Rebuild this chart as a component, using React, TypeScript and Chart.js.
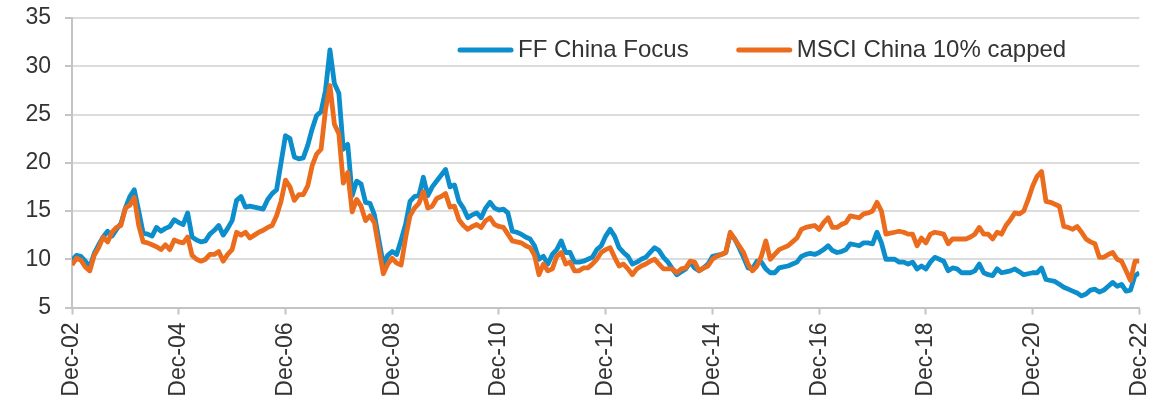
import React, { useEffect, useRef } from "react";
import { Chart, registerables } from "chart.js";

Chart.register(...registerables);

const seriesNames = ["FF China Focus", "MSCI China 10% capped"];
const seriesColors = ["#0C8ECC", "#EC6C1E"];

// x-axis tick labels, every 24 months from Dec-02
const tickLabels = ["Dec-02", "Dec-04", "Dec-06", "Dec-08", "Dec-10", "Dec-12", "Dec-14", "Dec-16", "Dec-18", "Dec-20", "Dec-22"];

// Monthly P/E values, Dec-02 .. Dec-22
const ffChinaFocus = [
  9.9, 10.4, 10.3, 9.8, 9.2, 10.6, 11.5, 12.3, 12.9, 12.4, 13.1, 13.7,
  15.3, 16.5, 17.2, 15.0, 12.7, 12.6, 12.4, 13.3, 12.9, 13.2, 13.4, 14.1,
  13.8, 13.6, 14.8, 12.3, 12.0, 11.8, 11.9, 12.6, 13.0, 13.5, 12.5, 13.2,
  14.0, 16.1, 16.5, 15.4, 15.5, 15.4, 15.3, 15.2, 16.2, 16.8, 17.2, 20.0,
  22.8, 22.5, 20.6, 20.4, 20.5, 21.8, 23.5, 24.9, 25.3, 27.5, 31.7, 28.2,
  27.2, 21.4, 21.9, 16.6, 18.1, 17.8, 15.9, 15.8, 14.6, 12.0, 9.5, 10.4,
  10.8, 10.5, 12.0, 13.6, 16.0, 16.5, 16.6, 18.5, 16.6, 17.5, 18.1, 18.7,
  19.3, 17.5, 17.7, 16.0, 15.3, 14.3, 14.6, 14.8, 14.3, 15.3, 15.9, 15.3,
  15.1, 15.2, 14.8, 12.9, 12.8, 12.6, 12.3, 12.1, 11.4, 10.0, 10.3, 9.5,
  10.5, 11.0, 11.9, 10.7, 10.7, 9.7, 9.7, 9.8, 10.0, 10.2, 11.0, 11.4,
  12.4, 13.1, 12.4, 11.2, 10.7, 10.3, 9.5, 9.7, 10.0, 10.2, 10.7, 11.2,
  10.9, 10.2, 9.7, 9.0, 8.4, 8.7, 9.0, 9.7, 9.1, 8.8, 9.1, 9.5,
  10.3, 10.4, 10.5, 10.7, 12.6, 12.1, 11.2, 10.2, 9.1, 9.0, 9.8, 9.7,
  9.0, 8.6, 8.6, 9.1, 9.2, 9.3, 9.5, 9.7, 10.3, 10.5, 10.6, 10.5,
  10.7, 11.0, 11.4, 10.9, 10.7, 10.8, 11.0, 11.6, 11.5, 11.4, 11.7, 11.7,
  11.6, 12.8, 11.7, 10.0, 10.0, 10.0, 9.7, 9.7, 9.5, 9.7, 9.0, 9.3,
  9.0, 9.7, 10.2, 10.0, 9.8, 8.8, 9.1, 9.0, 8.6, 8.6, 8.6, 8.8,
  9.5, 8.6, 8.4, 8.3, 9.0, 8.6, 8.7, 8.8, 9.0, 8.7, 8.4, 8.5,
  8.6, 8.6, 9.1, 7.9, 7.8, 7.7, 7.4, 7.1, 6.9, 6.7, 6.5, 6.2,
  6.4, 6.8, 6.9, 6.6, 6.8, 7.2, 7.6, 7.2, 7.4, 6.7, 6.8, 8.3,
  8.6,
];

const msciChina10 = [
  9.4, 10.1, 9.9, 9.2, 8.8, 10.4, 11.2, 12.3, 11.8, 12.8, 13.3, 13.5,
  15.3, 15.6, 16.4, 13.5, 11.8, 11.7, 11.5, 11.3, 11.0, 11.5, 11.0, 12.0,
  11.8, 11.7, 12.3, 10.4, 10.0, 9.8, 10.0, 10.5, 10.5, 10.8, 9.8, 10.5,
  11.0, 12.8, 12.5, 12.8, 12.2, 12.5, 12.8, 13.0, 13.3, 13.5, 14.5, 16.0,
  18.2, 17.5, 16.1, 16.7, 16.7, 17.6, 19.7, 20.9, 21.4, 25.5, 28.0, 24.0,
  23.0, 17.9, 19.0, 14.9, 16.2, 15.5, 14.0, 14.5, 13.8, 11.1, 8.5, 9.5,
  10.1, 9.6, 9.4, 12.2, 14.5, 15.3, 15.8, 17.0, 15.3, 15.5, 16.3, 16.5,
  16.8, 15.4, 15.5, 14.1, 13.5, 13.1, 13.4, 13.6, 13.3, 14.0, 14.3, 13.6,
  13.4, 13.3, 12.6, 11.9, 11.8, 11.7, 11.4, 11.2, 10.4, 8.4, 9.5, 8.8,
  9.0, 10.3, 10.7, 9.5, 9.7, 8.8, 8.8, 9.1, 9.1, 9.5, 10.0, 10.7,
  11.0, 11.2, 10.2, 9.3, 9.5, 9.0, 8.4, 9.0, 9.3, 9.5, 9.8, 10.0,
  9.5, 9.0, 9.0, 9.0, 8.6, 9.0, 9.1, 9.8, 9.7, 8.8, 9.1, 9.3,
  10.0, 10.3, 10.5, 10.7, 12.8, 12.1, 11.4, 10.7, 9.5, 8.8, 9.3, 10.3,
  11.9, 10.0, 10.5, 11.0, 11.2, 11.4, 11.8, 12.2, 13.1, 13.3, 13.4, 13.5,
  13.1, 13.8, 14.3, 13.3, 13.3, 13.6, 13.8, 14.5, 14.4, 14.3, 14.7, 14.8,
  15.0, 15.9, 15.0, 12.6, 12.7, 12.8, 12.9, 12.8, 12.6, 12.6, 11.4, 12.2,
  11.7, 12.6, 12.8, 12.7, 12.6, 11.6, 12.1, 12.1, 12.1, 12.1, 12.3, 12.6,
  13.3, 12.6, 12.6, 12.1, 12.8, 12.6, 13.5, 14.1, 14.8, 14.7, 15.0, 16.2,
  17.6, 18.6, 19.1, 16.0, 15.9, 15.7, 15.5, 13.4, 13.3, 13.1, 13.4, 12.8,
  12.1, 11.8, 11.6, 10.2, 10.2, 10.5, 10.7, 10.0, 9.8, 8.8, 7.8, 9.8,
  9.8,
];

const FONT = "'Liberation Sans', Arial, sans-serif";
const TEXT_COLOR = "#333333";

const legendPlugin = {
  id: "insideLegend",
  afterDatasetsDraw(chart: any) {
    const ctx = chart.ctx;
    const ds = chart.data.datasets;
    let x = 458;
    const y = 50;
    ctx.save();
    ctx.font = `24px ${FONT}`;
    ctx.textBaseline = "middle";
    ctx.textAlign = "left";
    ds.forEach((d: any) => {
      ctx.strokeStyle = d.borderColor;
      ctx.lineWidth = 5;
      ctx.lineCap = "round";
      ctx.beginPath();
      ctx.moveTo(x + 2, y);
      ctx.lineTo(x + 53, y);
      ctx.stroke();
      ctx.fillStyle = TEXT_COLOR;
      ctx.fillText(d.label, x + 60, y);
      x += 60 + ctx.measureText(d.label).width + 48;
    });
    ctx.restore();
  },
};

export default function App() {
  const canvasRef = useRef<HTMLCanvasElement | null>(null);

  useEffect(() => {
    if (!canvasRef.current) return;
    const toPoints = (arr: number[]) => arr.map((v, i) => ({ x: i, y: v }));
    const chart = new Chart(canvasRef.current, {
      type: "line",
      data: {
        datasets: [
          {
            label: seriesNames[0],
            data: toPoints(ffChinaFocus),
            borderColor: seriesColors[0],
            backgroundColor: seriesColors[0],
            borderWidth: 4.8,
            pointRadius: 0,
            tension: 0,
            borderJoinStyle: "round",
            order: 1,
          },
          {
            label: seriesNames[1],
            data: toPoints(msciChina10),
            borderColor: seriesColors[1],
            backgroundColor: seriesColors[1],
            borderWidth: 4.8,
            pointRadius: 0,
            tension: 0,
            borderJoinStyle: "round",
            order: 0,
          },
        ],
      },
      options: {
        animation: false,
        responsive: true,
        maintainAspectRatio: false,
        layout: { padding: { top: 18, right: 31, left: 0, bottom: 0 } },
        plugins: {
          legend: { display: false },
          tooltip: { enabled: false },
        },
        scales: {
          x: {
            type: "linear",
            min: 0,
            max: 240,
            afterFit: (scale: any) => {
              scale.height = 94.5;
            },
            ticks: {
              stepSize: 24,
              autoSkip: false,
              minRotation: 90,
              maxRotation: 90,
              padding: 8,
              color: TEXT_COLOR,
              font: { family: FONT, size: 23 },
              callback: (v: any) => tickLabels[Math.round(Number(v) / 24)] ?? "",
            },
            grid: {
              drawOnChartArea: false,
              drawTicks: true,
              tickLength: 7,
              tickColor: "#c4c4c4",
              tickWidth: 2,
            },
            border: { color: "#c4c4c4", width: 2 },
          },
          y: {
            min: 5,
            max: 35,
            afterFit: (scale: any) => {
              scale.width = 72;
              scale.paddingTop = 0;
              scale.paddingBottom = 0;
            },
            ticks: {
              stepSize: 5,
              padding: 14,
              color: TEXT_COLOR,
              font: { family: FONT, size: 23 },
            },
            grid: {
              color: "#dcdcdc",
              lineWidth: 2,
              drawTicks: true,
              tickLength: 7,
              tickColor: "#c4c4c4",
            },
            border: { color: "#c4c4c4", width: 2 },
          },
        },
      },
      plugins: [legendPlugin],
    } as any);
    return () => chart.destroy();
  }, []);

  return (
    <div style={{ position: "fixed", left: 0, top: 0, width: 1175, height: 402, background: "#fff" }}>
      <canvas ref={canvasRef} />
    </div>
  );
}
